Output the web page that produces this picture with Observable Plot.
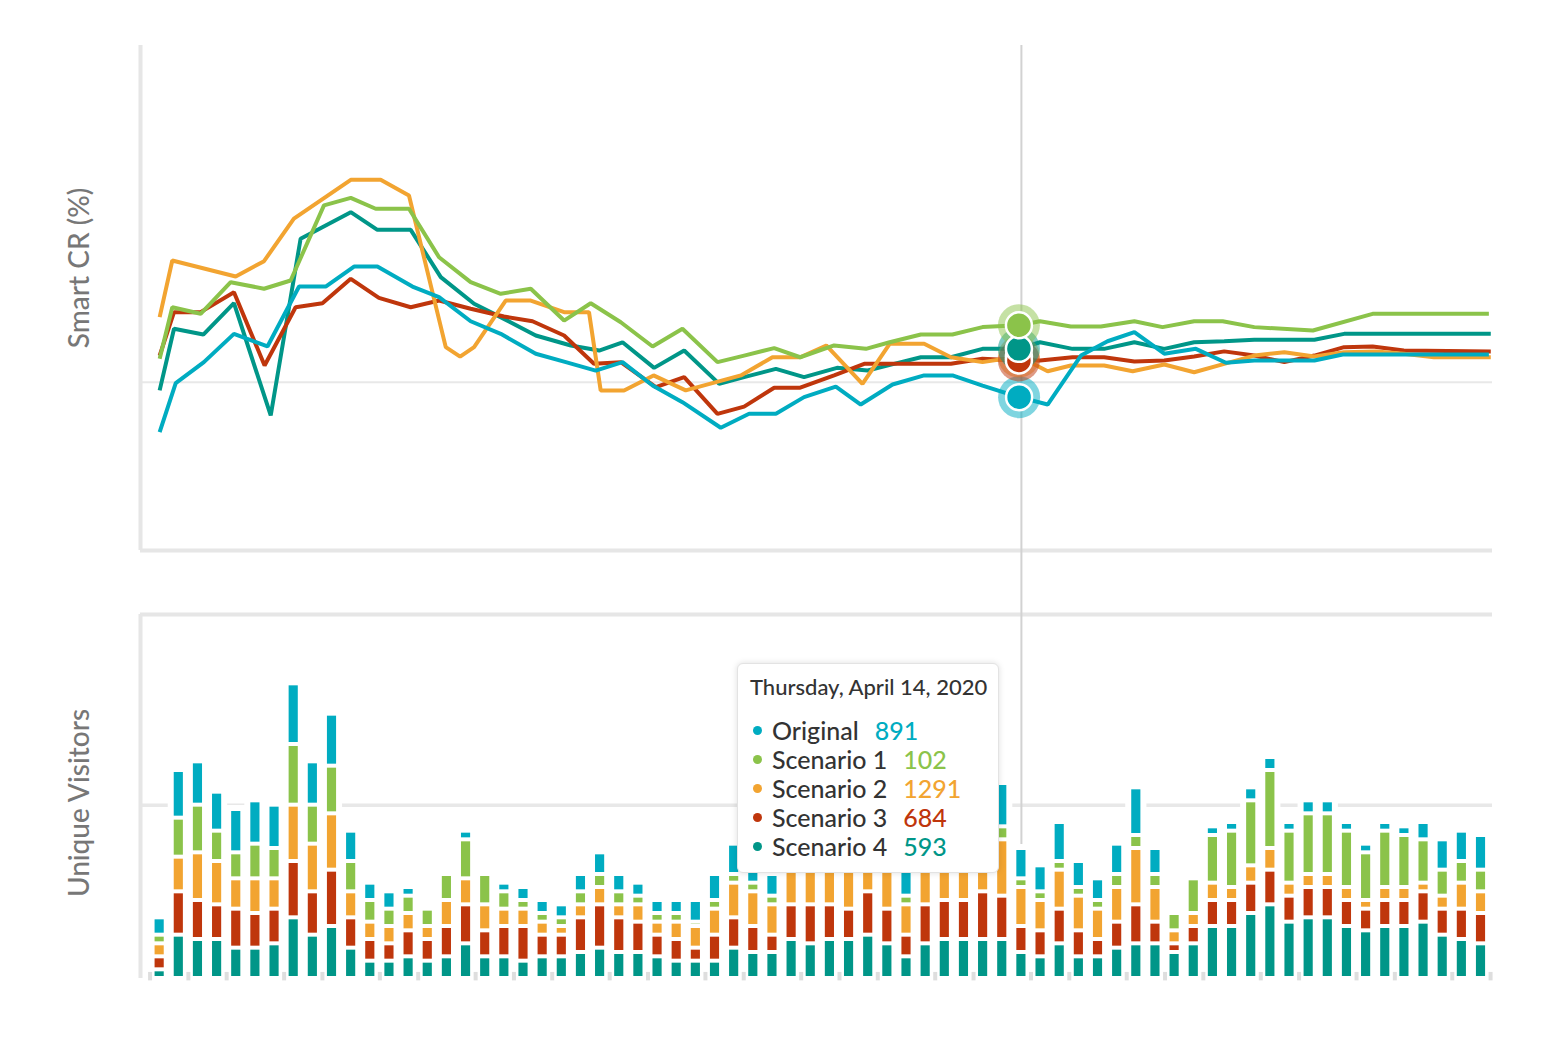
<!DOCTYPE html>
<html><head><meta charset="utf-8">
<script src="https://cdn.jsdelivr.net/npm/d3@7"></script>
<script src="https://cdn.jsdelivr.net/npm/@observablehq/plot@0.6"></script>
<style>
body{margin:0;background:#fff;font-family:Lato,"Open Sans",sans-serif;}
#wrap{position:relative;width:1560px;height:1038px;overflow:hidden;background:#fff;}
#top{position:absolute;left:0;top:0;}
#bottom{position:absolute;left:0;top:580px;}
.ylab{position:absolute;color:#777;font-size:28px;font-weight:500;transform:translate(-50%,-50%) rotate(-90deg);white-space:nowrap;}
#tip{position:absolute;left:737px;top:663px;width:262px;height:210px;box-sizing:border-box;background:#fff;border:1px solid #e3e3e3;border-radius:6px;box-shadow:0 0 6px rgba(0,0,0,.13);padding:11px 0 0 12px;}
#tip .tt{font-size:22px;line-height:24px;color:#333;font-weight:500;}
#tip .rows{margin-top:17px;}
#tip .row{font-size:25px;line-height:29px;height:29px;color:#333;font-weight:500;display:flex;align-items:center;}
#tip .dot{width:9px;height:9px;border-radius:50%;margin-left:3px;margin-right:10px;flex:none;}
#tip .val{margin-left:16px;}
</style></head>
<body>
<div id="wrap">
  <div id="top"></div>
  <div id="bottom"></div>
  <div id="labTop" class="ylab" style="left:78px;top:268px"></div>
  <div id="labBottom" class="ylab" style="left:78px;top:803px"></div>
  <div id="tip"></div>
</div>
<script>
// ---------- data ----------
const seriesNames = ["Original", "Scenario 1", "Scenario 2", "Scenario 3", "Scenario 4"];
const seriesColors = ["#00acc1", "#8bc34a", "#f2a431", "#bf360c", "#009688"];
const yTitleTop = "Smart CR (%)";
const yTitleBottom = "Unique Visitors";

// Smart CR lines: day position and value per series
const originalDays = [0,0.84,2.31,3.88,5.63,7.28,8.67,10.15,11.37,13.20,14.59,16.24,17.81,19.64,21.21,22.77,24.17,25.74,27.30,29.30,30.78,32.18,33.65,35.31,36.61,38.27,39.92,41.40,42.97,44.88,46.37,48.11,49.50,50.90,52.46,54.11,55.68,57.16,60.30,61.78,69.41];
const originalCR = [0.703,0.994,1.119,1.287,1.212,1.568,1.568,1.687,1.687,1.568,1.505,1.362,1.287,1.169,1.119,1.069,1.119,0.980,0.881,0.729,0.812,0.812,0.911,0.974,0.867,0.986,1.040,1.040,0.980,0.911,0.867,1.158,1.243,1.297,1.169,1.198,1.115,1.129,1.129,1.164,1.164];
const scenario1Days = [0,0.66,2.14,3.71,5.45,6.84,8.58,9.98,11.28,13.02,14.59,16.24,17.81,19.38,21.12,22.51,24.08,25.74,27.30,29.13,30.52,32.09,33.45,35.22,36.88,38.12,39.75,41.40,42.97,44.87,45.97,47.58,49.15,50.90,52.37,54.02,55.51,57.16,60.22,63.34,69.41];
const scenario1CR = [1.139,1.445,1.406,1.594,1.555,1.604,2.050,2.095,2.030,2.030,1.742,1.594,1.525,1.555,1.366,1.469,1.356,1.212,1.317,1.119,1.158,1.202,1.148,1.218,1.198,1.237,1.283,1.283,1.327,1.338,1.362,1.331,1.331,1.362,1.327,1.362,1.362,1.327,1.307,1.406,1.406];
const scenario2Days = [0,0.66,3.97,5.45,7.01,9.98,11.54,13.02,14.94,15.69,16.42,18.07,19.38,21.12,22.42,23.03,24.25,25.79,27.47,30.35,32.0,33.45,34.81,36.70,38.12,39.92,41.32,42.97,44.87,46.37,47.58,49.32,50.81,52.46,54.02,55.59,57.16,58.73,60.30,61.85,63.50,64.97,66.54,69.51];
const scenario2CR = [1.386,1.723,1.628,1.719,1.971,2.202,2.202,2.109,1.208,1.152,1.208,1.485,1.485,1.416,1.416,0.951,0.951,1.040,0.951,1.040,1.148,1.148,1.218,0.990,1.228,1.228,1.148,1.119,1.152,1.065,1.099,1.099,1.065,1.105,1.059,1.109,1.158,1.178,1.152,1.178,1.182,1.169,1.148,1.148];
const scenario3Days = [0,0.75,2.14,3.88,5.48,7.10,8.50,9.98,11.45,13.11,14.59,16.24,17.98,19.47,21.12,22.68,24.08,25.91,27.39,29.13,30.52,32.09,33.45,35.22,36.79,41.32,42.97,44.87,45.97,47.67,49.32,50.90,52.46,54.02,55.59,57.16,58.73,60.30,61.85,63.34,64.97,69.51];
const scenario3CR = [1.158,1.416,1.416,1.534,1.099,1.445,1.469,1.614,1.501,1.445,1.485,1.436,1.390,1.362,1.277,1.109,1.119,0.970,1.030,0.812,0.855,0.967,0.967,1.040,1.109,1.109,1.139,1.129,1.129,1.148,1.148,1.123,1.129,1.152,1.183,1.158,1.119,1.158,1.208,1.212,1.188,1.182];
const scenario4Days = [0,0.75,2.28,3.88,5.80,7.36,8.67,9.98,11.37,13.11,14.68,16.42,17.98,19.64,21.47,22.95,24.17,25.82,27.39,29.22,30.52,32.18,33.65,35.37,36.97,38.35,39.75,41.32,42.97,44.87,45.97,47.67,49.32,50.90,52.46,54.02,55.59,57.16,60.30,61.85,69.51];
const scenario4CR = [0.951,1.317,1.283,1.469,0.802,1.852,1.931,2.010,1.905,1.905,1.624,1.466,1.376,1.277,1.218,1.188,1.237,1.085,1.188,0.990,1.030,1.079,1.030,1.085,1.069,1.109,1.148,1.148,1.198,1.198,1.237,1.198,1.198,1.237,1.198,1.237,1.243,1.252,1.252,1.287,1.287];

// Unique visitors per day (70 days), one array per series
const visitsOriginal  = [400,1100,1000,900,1000,1000,1000,1400,1000,1200,700,400,400,200,0,0,200,0,200,300,300,300,400,500,400,300,300,300,500,600,700,700,500,800,800,800,800,900,800,700,800,900,900,900,1000,700,600,900,600,500,700,1100,600,0,0,200,200,300,300,200,300,300,200,200,200,200,400,700,700,800];
const visitsScenario1 = [200,900,1100,700,600,800,700,1400,900,1100,700,500,400,400,400,600,900,700,400,200,200,200,300,300,300,200,200,200,100,200,200,200,200,200,200,200,200,300,200,200,200,200,200,300,300,200,200,200,200,200,300,300,300,400,800,1100,1300,1500,1800,1200,1400,1400,1300,1100,1300,1200,1000,600,500,500];
const visitsScenario2 = [300,800,1100,1000,700,800,700,1300,1100,1300,600,400,400,400,300,600,600,600,400,400,300,200,300,400,300,400,300,400,500,600,800,800,700,1000,1000,1000,1100,1100,1000,700,1000,1100,1100,1200,1300,900,700,900,800,700,800,1300,800,300,300,400,300,400,500,300,300,300,300,200,300,300,200,300,600,500];
const visitsScenario3 = [300,1000,900,800,900,800,800,1300,1000,1300,700,500,400,600,500,700,900,600,700,800,500,500,800,1000,800,700,500,500,300,600,700,600,400,800,900,800,700,1000,800,500,900,900,900,1100,1000,600,600,800,600,400,600,900,500,200,400,600,600,700,800,600,700,700,600,500,600,600,700,600,700,700];
const visitsScenario4 = [200,1000,900,900,700,700,800,1400,1000,1200,700,400,400,500,400,500,800,500,500,400,500,500,600,700,600,600,500,400,400,400,700,600,600,900,800,900,900,1000,800,500,800,900,900,900,900,600,500,800,500,500,700,800,800,600,800,1200,1200,1500,1700,1300,1400,1400,1200,1100,1200,1200,1300,1000,900,800];

// hovered day and tooltip
const hoverDay = 45;
const tooltipDate = "Thursday, April 14, 2020";
const tooltipValues = [891, 102, 1291, 684, 593];

// bottom axis tick positions (days, between bars)
const xTicks = [-0.5,1.5,3.5,6.5,8.5,11.5,13.5,16.5,18.5,20.5,23.5,25.5,28.5,30.5,33.5,35.5,37.5,40.5,42.5,45.5,47.5,50.5,52.5,54.5,57.5,59.5,62.5,64.5,67.5,69.5];

// ---------- derived tables ----------
const lineSeries = [
  ["Original", originalDays, originalCR],
  ["Scenario 1", scenario1Days, scenario1CR],
  ["Scenario 2", scenario2Days, scenario2CR],
  ["Scenario 3", scenario3Days, scenario3CR],
  ["Scenario 4", scenario4Days, scenario4CR]
];
const lineRows = lineSeries.map(([s, ds, vs]) => ds.map((d, i) => ({series: s, day: d, cr: vs[i]})));
const hoverPts = lineRows.map(rows => rows.reduce((a, b) => Math.abs(b.day - hoverDay) < Math.abs(a.day - hoverDay) ? b : a));
const circleOrder = ["Original", "Scenario 2", "Scenario 3", "Scenario 4", "Scenario 1"];
const hoverSorted = circleOrder.map(s => hoverPts.find(p => p.series === s));

const visitsBySeries = {
  "Original": visitsOriginal, "Scenario 1": visitsScenario1, "Scenario 2": visitsScenario2,
  "Scenario 3": visitsScenario3, "Scenario 4": visitsScenario4
};
const stackOrder = ["Scenario 4", "Scenario 3", "Scenario 2", "Scenario 1", "Original"];
const barRows = [];
const barTotals = [];
visitsOriginal.forEach((_, i) => {
  let acc = 0;
  for (const s of stackOrder) {
    const v = visitsBySeries[s][i];
    barRows.push({day: i, series: s, y1: acc, y2: acc + v});
    acc += v;
  }
  barTotals.push({day: i, total: acc});
});

const color = {domain: seriesNames, range: seriesColors};
const xDomain = [-1, 69.6];
const frame = "#e6e6e6";

// ---------- top chart ----------
const topChart = Plot.plot({
  width: 1560, height: 580,
  marginLeft: 140, marginRight: 68, marginTop: 45, marginBottom: 30,
  x: {domain: xDomain, axis: null},
  y: {domain: [0, 3], axis: null},
  color,
  marks: [
    Plot.ruleY([1], {stroke: "#e8e8e8", strokeWidth: 2}),
    Plot.ruleY([0], {stroke: frame, strokeWidth: 4}),
    Plot.ruleX([xDomain[0]], {y1: 0, y2: 3, stroke: frame, strokeWidth: 4}),
    Plot.ruleX([hoverDay], {y1: 3, y2: -0.3, stroke: "#d2d2d2", strokeWidth: 2}),
    ...[4, 3, 2, 1, 0].map(k => Plot.line(lineRows[k], {
      x: "day", y: "cr", stroke: "series", strokeWidth: 4,
      strokeLinejoin: "miter", strokeLinecap: "butt"
    })),
    Plot.dot(hoverSorted, {x: "day", y: "cr", r: 21, fill: "series", fillOpacity: 0.5}),
    ...hoverSorted.map(p => Plot.dot([p], {x: "day", y: "cr", r: 13, fill: "series", stroke: "white", strokeWidth: 2.5}))
  ]
});
document.getElementById("top").appendChild(topChart);

// ---------- bottom chart ----------
const bottomChart = Plot.plot({
  width: 1560, height: 438,
  marginLeft: 140, marginRight: 68, marginTop: 34, marginBottom: 40,
  x: {domain: xDomain, axis: null},
  y: {domain: [0, 8400], axis: null},
  color,
  marks: [
    Plot.ruleY([4000], {stroke: "#e8e8e8", strokeWidth: 3.5}),
    Plot.ruleY([8400], {stroke: frame, strokeWidth: 4}),
    Plot.ruleX([xDomain[0]], {y1: 0, y2: 8400, stroke: frame, strokeWidth: 4}),
    Plot.ruleX([hoverDay], {y1: 9300, y2: 0, stroke: "#d2d2d2", strokeWidth: 2}),
    Plot.rect(barTotals, {
      x1: d => d.day - 0.5, x2: d => d.day + 0.5, y1: 0, y2: "total",
      insetLeft: 5, insetRight: 5, insetTop: 2,
      fill: "white", stroke: "white", strokeWidth: 12
    }),
    Plot.ruleX(xTicks, {y1: 140, y2: -55, stroke: "#dedede", strokeWidth: 4}),
    Plot.rect(barRows, {
      x1: d => d.day - 0.5, x2: d => d.day + 0.5, y1: "y1", y2: "y2",
      fill: "series", insetLeft: 5, insetRight: 5, insetTop: 2, insetBottom: 2
    })
  ]
});
document.getElementById("bottom").appendChild(bottomChart);

// ---------- labels and tooltip ----------
document.getElementById("labTop").textContent = yTitleTop;
document.getElementById("labBottom").textContent = yTitleBottom;
const tip = document.getElementById("tip");
tip.innerHTML = `<div class="tt">${tooltipDate}</div><div class="rows">` +
  seriesNames.map((s, i) => `<div class="row"><span class="dot" style="background:${seriesColors[i]}"></span><span class="lab">${s}</span><span class="val" style="color:${seriesColors[i]}">${tooltipValues[i]}</span></div>`).join("") +
  `</div>`;
</script>
</body></html>
